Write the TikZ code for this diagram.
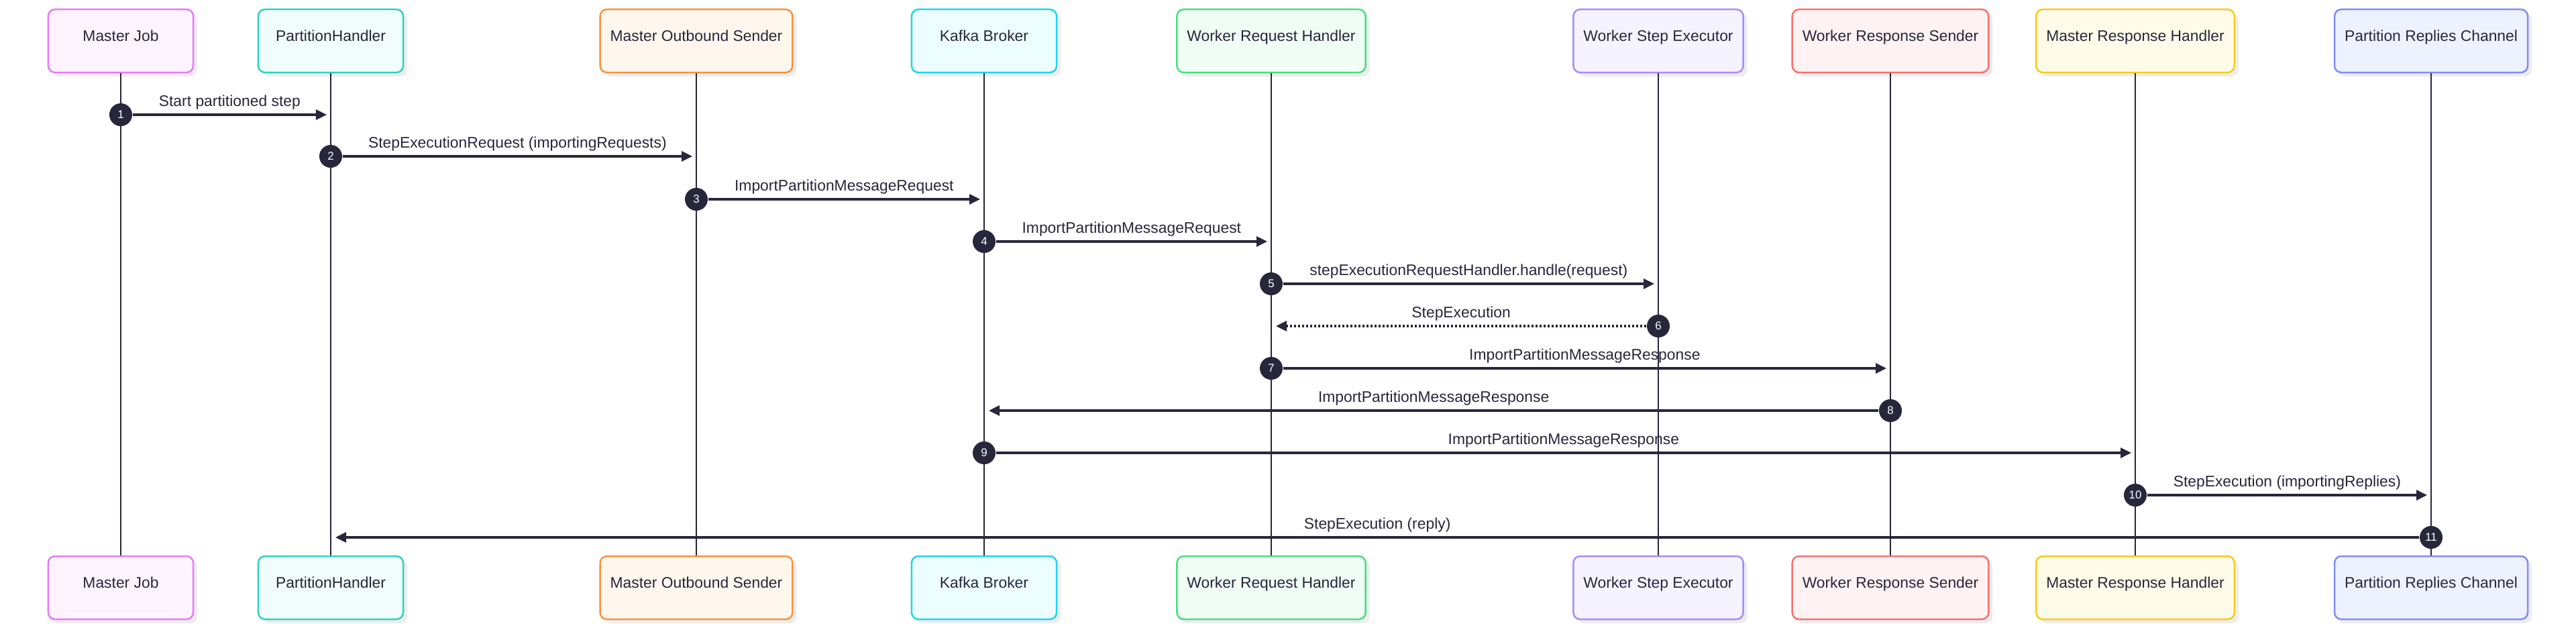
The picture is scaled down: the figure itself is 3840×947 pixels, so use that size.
\documentclass[tikz,border=0pt]{standalone}
\usepackage{fontspec}
\setmainfont{Liberation Sans}
\usetikzlibrary{arrows.meta,shadows,positioning}

\definecolor{ink}{HTML}{28263B}
\definecolor{mjline}{HTML}{E879F9}\definecolor{mjfill}{HTML}{FDF4FF}
\definecolor{phline}{HTML}{2DD4BF}\definecolor{phfill}{HTML}{F0FDFA}
\definecolor{mosline}{HTML}{FB923C}\definecolor{mosfill}{HTML}{FFF7ED}
\definecolor{kbline}{HTML}{22D3EE}\definecolor{kbfill}{HTML}{ECFEFF}
\definecolor{wrhline}{HTML}{4ADE80}\definecolor{wrhfill}{HTML}{F0FDF4}
\definecolor{wseline}{HTML}{A78BFA}\definecolor{wsefill}{HTML}{F5F3FF}
\definecolor{wrsline}{HTML}{F87171}\definecolor{wrsfill}{HTML}{FEF2F2}
\definecolor{mrhline}{HTML}{FACC15}\definecolor{mrhfill}{HTML}{FEFCE8}
\definecolor{prcline}{HTML}{818CF8}\definecolor{prcfill}{HTML}{EEF2FF}

\tikzset{
  actor/.style 2 args={draw=#1, fill=#2, text=ink, line width=0.25mm, rounded corners=1mm,
    minimum width=21.6mm, minimum height=9.4mm, inner xsep=1.5mm,
    text height=0pt, text depth=0pt, font=\fontsize{6.5}{7.8}\selectfont,
    drop shadow={shadow xshift=0.6mm, shadow yshift=-0.6mm, fill=black, opacity=0.07}},
  life/.style={draw=ink, line width=0.2mm},
  msg/.style={draw=ink, line width=0.32mm, -{Triangle[length=1.6mm,width=1.5mm]}},
  reply/.style={msg, dash pattern=on 0.3mm off 0.3mm},
  num/.style={circle, fill=ink, text=white, minimum size=3.4mm, inner sep=0pt,
    font=\fontsize{4.8}{5.5}\selectfont},
  lbl/.style={font=\fontsize{6.5}{7.8}\selectfont, text=ink, inner sep=0pt, anchor=base, yshift=1.3mm}
}

\begin{document}
\begin{tikzpicture}[x=0.01cm, y=-0.01cm]
\useasboundingbox (0,0) rectangle (3840,947);

\node[actor={mjline}{mjfill}] (mj) at (180,61) {Master Job};
\node[actor={phline}{phfill}] (ph) at (493,61) {PartitionHandler};
\node[actor={mosline}{mosfill}] (mos) at (1038,61) {Master Outbound Sender};
\node[actor={kbline}{kbfill}] (kb) at (1467,61) {Kafka Broker};
\node[actor={wrhline}{wrhfill}] (wrh) at (1895,61) {Worker Request Handler};
\node[actor={wseline}{wsefill}] (wse) at (2472,61) {Worker Step Executor};
\node[actor={wrsline}{wrsfill}] (wrs) at (2818,61) {Worker Response Sender};
\node[actor={mrhline}{mrhfill}] (mrh) at (3183,61) {Master Response Handler};
\node[actor={prcline}{prcfill}] (prc) at (3624,61) {Partition Replies Channel};

\node[actor={mjline}{mjfill}] (mjB) at (180,876) {Master Job};
\node[actor={phline}{phfill}] (phB) at (493,876) {PartitionHandler};
\node[actor={mosline}{mosfill}] (mosB) at (1038,876) {Master Outbound Sender};
\node[actor={kbline}{kbfill}] (kbB) at (1467,876) {Kafka Broker};
\node[actor={wrhline}{wrhfill}] (wrhB) at (1895,876) {Worker Request Handler};
\node[actor={wseline}{wsefill}] (wseB) at (2472,876) {Worker Step Executor};
\node[actor={wrsline}{wrsfill}] (wrsB) at (2818,876) {Worker Response Sender};
\node[actor={mrhline}{mrhfill}] (mrhB) at (3183,876) {Master Response Handler};
\node[actor={prcline}{prcfill}] (prcB) at (3624,876) {Partition Replies Channel};

\draw[life] (mj) -- (mjB);
\draw[life] (ph) -- (phB);
\draw[life] (mos) -- (mosB);
\draw[life] (kb) -- (kbB);
\draw[life] (wrh) -- (wrhB);
\draw[life] (wse) -- (wseB);
\draw[life] (wrs) -- (wrsB);
\draw[life] (mrh) -- (mrhB);
\draw[life] (prc) -- (prcB);

\node[num] (n1) at (mj |- 0,171) {1};
\coordinate (t1) at ([xshift=-0.6mm]ph |- n1);
\draw[msg] (n1) -- (t1) node[lbl, midway] {Start partitioned step};

\node[num] (n2) at (ph |- 0,233) {2};
\coordinate (t2) at ([xshift=-0.6mm]mos |- n2);
\draw[msg] (n2) -- (t2) node[lbl, midway] {StepExecutionRequest (importingRequests)};

\node[num] (n3) at (mos |- 0,297) {3};
\coordinate (t3) at ([xshift=-0.6mm]kb |- n3);
\draw[msg] (n3) -- (t3) node[lbl, midway] {ImportPartitionMessageRequest};

\node[num] (n4) at (kb |- 0,360) {4};
\coordinate (t4) at ([xshift=-0.6mm]wrh |- n4);
\draw[msg] (n4) -- (t4) node[lbl, midway] {ImportPartitionMessageRequest};

\node[num] (n5) at (wrh |- 0,423) {5};
\coordinate (t5) at ([xshift=-0.6mm]wse |- n5);
\draw[msg] (n5) -- (t5) node[lbl, midway] {stepExecutionRequestHandler.handle(request)};

\node[num] (n6) at (wse |- 0,486) {6};
\coordinate (t6) at ([xshift=0.7mm]wrh |- n6);
\draw[reply] (n6) -- (t6) node[lbl, midway] {StepExecution};

\node[num] (n7) at (wrh |- 0,549) {7};
\coordinate (t7) at ([xshift=-0.6mm]wrs |- n7);
\draw[msg] (n7) -- (t7) node[lbl, midway] {ImportPartitionMessageResponse};

\node[num] (n8) at (wrs |- 0,612) {8};
\coordinate (t8) at ([xshift=0.7mm]kb |- n8);
\draw[msg] (n8) -- (t8) node[lbl, midway] {ImportPartitionMessageResponse};

\node[num] (n9) at (kb |- 0,675) {9};
\coordinate (t9) at ([xshift=-0.6mm]mrh |- n9);
\draw[msg] (n9) -- (t9) node[lbl, midway] {ImportPartitionMessageResponse};

\node[num] (n10) at (mrh |- 0,738) {10};
\coordinate (t10) at ([xshift=-0.6mm]prc |- n10);
\draw[msg] (n10) -- (t10) node[lbl, midway] {StepExecution (importingReplies)};

\node[num] (n11) at (prc |- 0,801) {11};
\coordinate (t11) at ([xshift=0.7mm]ph |- n11);
\draw[msg] (n11) -- (t11) node[lbl, midway] {StepExecution (reply)};

\end{tikzpicture}
\end{document}
